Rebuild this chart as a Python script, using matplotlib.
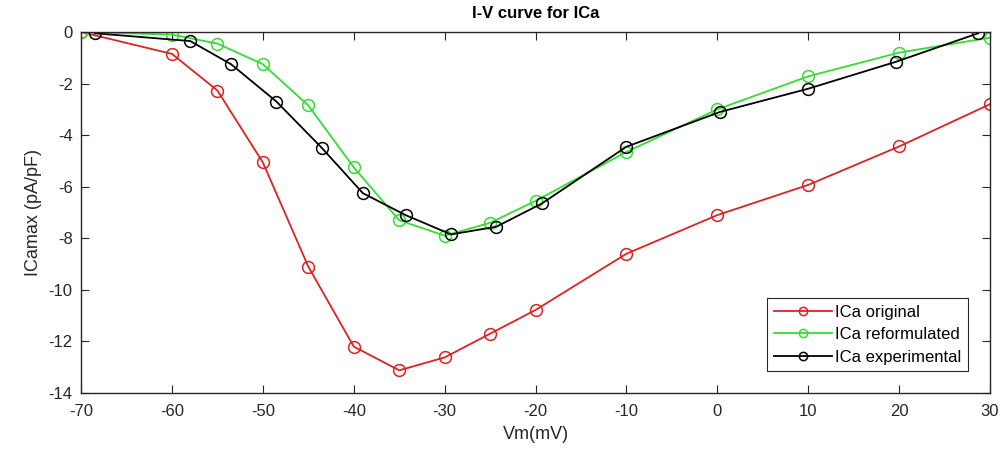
import numpy as np
import matplotlib
matplotlib.use('Agg')
import matplotlib.pyplot as plt

plt.rcParams['font.family'] = ['Liberation Sans', 'DejaVu Sans']
plt.rcParams['axes.unicode_minus'] = False

# ICa original
v_orig = [-70, -60, -55, -50, -45, -40, -35, -30, -25, -20, -10, 0, 10, 20, 30]
i_orig = [0, -0.85, -2.27, -5.06, -9.1, -12.2, -13.12, -12.62, -11.7, -10.78, -8.6, -7.1, -5.93, -4.44, -2.8]

# ICa reformulated
v_ref = [-70, -60, -55, -50, -45, -40, -35, -30, -25, -20, -10, 0, 10, 20, 30]
i_ref = [0, -0.1, -0.45, -1.25, -2.85, -5.25, -7.3, -7.9, -7.4, -6.55, -4.65, -3.0, -1.72, -0.8, -0.22]

# ICa experimental
v_exp = [-68.5, -58, -53.5, -48.5, -43.5, -39, -34.3, -29.3, -24.3, -19.3, -10, 0.3, 10, 19.7, 28.7]
i_exp = [-0.05, -0.35, -1.25, -2.7, -4.5, -6.25, -7.1, -7.85, -7.55, -6.65, -4.45, -3.1, -2.2, -1.15, -0.05]

fig = plt.figure(figsize=(10.01, 4.57), dpi=100)
ax = fig.add_axes([0.081, 0.14, 0.908, 0.79])

mk = dict(marker='o', markerfacecolor='none', markersize=8.5, markeredgewidth=1.1, linewidth=1.3)
ax.plot(v_orig, i_orig, color='#dd2222', label='ICa original', **mk)
ax.plot(v_ref, i_ref, color='#33dd33', label='ICa reformulated', **mk)
ax.plot(v_exp, i_exp, color='black', label='ICa experimental', **mk)

ax.set_xlim(-70, 30)
ax.set_ylim(-14, 0)
ax.set_xticks(np.arange(-70, 31, 10))
ax.set_yticks(np.arange(-14, 1, 2))
ax.tick_params(direction='in', top=True, right=True, labelsize=12, colors='#262626', length=6)
ax.tick_params(axis='x', pad=8)
ax.tick_params(axis='y', pad=6)
for s in ax.spines.values():
    s.set_color('#262626')
    s.set_linewidth(1.0)

ax.set_xlabel('Vm(mV)', fontsize=13, color='#262626', labelpad=5)
ax.set_ylabel('ICamax (pA/pF)', fontsize=13, color='#262626', labelpad=5)
ax.set_title('I-V curve for ICa', fontsize=12, fontweight='bold', pad=10)

leg = ax.legend(loc='lower right', fontsize=12, fancybox=False, framealpha=1,
                edgecolor='#262626', borderpad=0.4, labelspacing=0.45,
                handlelength=3.5, handletextpad=0.2, borderaxespad=1.3,
                markerscale=0.7)
leg.get_frame().set_linewidth(0.8)

fig.savefig('out.png', dpi=100)
